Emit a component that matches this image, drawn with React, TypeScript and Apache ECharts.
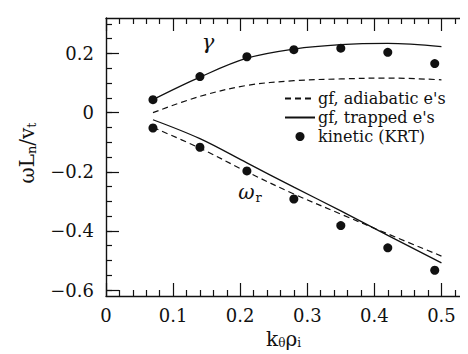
import React, { useEffect, useRef } from "react";
import * as echarts from "echarts";

// ---- data ----
const kineticX = [0.07, 0.14, 0.21, 0.28, 0.35, 0.42, 0.49];
const kineticGamma = [0.044, 0.122, 0.189, 0.213, 0.218, 0.204, 0.166];
const kineticOmega = [-0.052, -0.117, -0.197, -0.292, -0.382, -0.457, -0.533];

const gfX = [0.07, 0.14, 0.21, 0.28, 0.35, 0.42, 0.5];
const gammaTrapped = [0.044, 0.12, 0.184, 0.215, 0.23, 0.234, 0.223];
const gammaAdiabatic = [0.0, 0.055, 0.092, 0.108, 0.114, 0.117, 0.111];
const omegaTrapped = [-0.024, -0.088, -0.17, -0.252, -0.332, -0.415, -0.508];
const omegaAdiabatic = [-0.05, -0.12, -0.2, -0.275, -0.343, -0.41, -0.485];

// ---- ticks ----
const xMajor = [0, 0.1, 0.2, 0.3, 0.4, 0.5];
const xMinor = [0.02, 0.04, 0.06, 0.08, 0.12, 0.14, 0.16, 0.18, 0.22, 0.24, 0.26, 0.28, 0.32, 0.34, 0.36, 0.38, 0.42, 0.44, 0.46, 0.48, 0.52, 0.54];
const yMajor = [-0.6, -0.4, -0.2, 0, 0.2];
const yMinor = [-0.6, -0.55, -0.5, -0.45, -0.4, -0.35, -0.3, -0.25, -0.2, -0.15, -0.1, -0.05, 0, 0.05, 0.1, 0.15, 0.2, 0.25, 0.3];

const LEG_ADIA = "gf, adiabatic e's";
const LEG_TRAP = "gf, trapped e's";
const LEG_KIN = "kinetic (KRT)";

const FONT = "'DejaVu Serif', serif";
const INK = "#111";

const zip = (xs: number[], ys: number[]) => xs.map((x, i) => [x, ys[i]]);

const fmt = (v: number) => {
  if (Math.abs(v) < 1e-9) return "0";
  return (v < 0 ? "\u2212" : "") + Math.abs(v).toFixed(1);
};

export default function App() {
  const ref = useRef<HTMLDivElement>(null);
  useEffect(() => {
    if (!ref.current) return;
    const chart = echarts.init(ref.current, undefined, { renderer: "svg" });
    const xRange = { min: 0, max: 0.55 };
    const yRange = { min: -0.62, max: 0.32 };
    const lineAx = { show: true, onZero: false, lineStyle: { color: INK, width: 1.4 } };
    const noLine = { show: false, onZero: false };
    const mkX = (pos: string, major: boolean, labels: boolean, extra: any = {}) => ({
      type: "value",
      ...xRange,
      position: pos,
      axisLine: major ? lineAx : noLine,
      axisTick: {
        show: true,
        inside: true,
        length: major ? 13 : 6,
        customValues: major ? xMajor : xMinor,
        lineStyle: { color: INK, width: 1.2 },
      },
      axisLabel: labels
        ? {
            show: true,
            customValues: xMajor,
            formatter: fmt,
            fontFamily: FONT,
            fontSize: 18,
            color: INK,
            margin: 10,
          }
        : { show: false },
      splitLine: { show: false },
      ...extra,
    });
    const mkY = (pos: string, major: boolean, labels: boolean, extra: any = {}) => ({
      type: "value",
      ...yRange,
      position: pos,
      axisLine: major ? lineAx : noLine,
      axisTick: {
        show: true,
        inside: true,
        length: major ? 13 : 6,
        customValues: major ? yMajor : yMinor,
        lineStyle: { color: INK, width: 1.2 },
      },
      axisLabel: labels
        ? {
            show: true,
            customValues: yMajor,
            formatter: fmt,
            fontFamily: FONT,
            fontSize: 18,
            color: INK,
            margin: 12,
            padding: [4, 0, 0, 0],
          }
        : { show: false },
      splitLine: { show: false },
      ...extra,
    });

    const dashed = { color: INK, width: 1.2, type: [6, 4] as any };
    const solid = { color: INK, width: 1.3, type: "solid" };
    const hiddenSym = { color: "transparent", borderColor: "transparent" };

    chart.setOption({
      animation: false,
      backgroundColor: "#fff",
      grid: { left: 98, top: 10, width: 369, height: 278, containLabel: false },
      xAxis: [
        mkX("bottom", true, true, {
          name: "{a|k}{s|\u03b8}{a|\u03c1}{s|i}",
          nameLocation: "middle",
          nameGap: 33,
          nameTextStyle: {
            padding: [0, 14, 0, 0],
            rich: {
              a: { fontFamily: FONT, fontSize: 20, color: INK },
              s: { fontFamily: FONT, fontSize: 12, color: INK, padding: [7, 0, 0, 0] },
            },
          },
        }),
        mkX("bottom", false, false),
        mkX("top", true, false),
        mkX("top", false, false),
      ],
      yAxis: [
        mkY("left", true, true, {
          name: "{a|\u03c9L}{s|n}{a|/v}{s|t}",
          nameLocation: "middle",
          nameGap: 68,
          nameRotate: 90,
          nameTextStyle: {
            padding: [0, 0, 0, 8],
            rich: {
              a: { fontFamily: FONT, fontSize: 20, color: INK },
              s: { fontFamily: FONT, fontSize: 13, color: INK, padding: [10, 0, 0, 0] },
            },
          },
        }),
        mkY("left", false, false),
        mkY("right", true, false),
        mkY("right", false, false),
      ],
      legend: {
        show: true,
        orient: "vertical",
        left: 276,
        top: 81,
        padding: 0,
        itemWidth: 30,
        itemHeight: 9,
        itemGap: 0,
        selectedMode: false,
        textStyle: { fontFamily: FONT, fontSize: 16, lineHeight: 19, color: INK, padding: [0, 0, 0, -2] },
        data: [LEG_ADIA, LEG_TRAP, LEG_KIN],
      },
      series: [
        {
          name: LEG_ADIA,
          type: "line",
          data: zip(gfX, gammaAdiabatic),
          smooth: 0.35,
          symbol: "none",
          lineStyle: dashed,
          itemStyle: hiddenSym,
        },
        {
          name: LEG_TRAP,
          type: "line",
          data: zip(gfX, gammaTrapped),
          smooth: 0.35,
          symbol: "none",
          lineStyle: solid,
          itemStyle: hiddenSym,
        },
        {
          name: LEG_ADIA,
          type: "line",
          data: zip(gfX, omegaAdiabatic),
          smooth: 0.35,
          symbol: "none",
          lineStyle: dashed,
          itemStyle: hiddenSym,
        },
        {
          name: LEG_TRAP,
          type: "line",
          data: zip(gfX, omegaTrapped),
          smooth: 0.35,
          symbol: "none",
          lineStyle: solid,
          itemStyle: hiddenSym,
        },
        {
          name: LEG_KIN,
          type: "scatter",
          data: zip(kineticX, kineticGamma),
          symbol: "circle",
          symbolSize: 9,
          itemStyle: { color: INK, opacity: 1 },
        },
        {
          name: LEG_KIN,
          type: "scatter",
          data: zip(kineticX, kineticOmega),
          symbol: "circle",
          symbolSize: 9,
          itemStyle: { color: INK, opacity: 1 },
        },
      ],
      graphic: [
        {
          type: "text",
          x: 200,
          y: 34,
          style: {
            text: "\u03b3",
            font: `italic 21px 'DejaVu Serif', serif`,
            fill: INK,
            textAlign: "center",
            textVerticalAlign: "middle",
          },
        },
        {
          type: "text",
          x: 242,
          y: 184,
          style: {
            text: "{w|\u03c9}{r|r}",
            fill: INK,
            textAlign: "center",
            textVerticalAlign: "middle",
            rich: {
              w: { fontFamily: FONT, fontStyle: "italic", fontSize: 20, fill: INK },
              r: { fontFamily: FONT, fontSize: 13, fill: INK, padding: [10, 0, 0, 1] },
            },
          },
        },
      ],
    });
    return () => chart.dispose();
  }, []);
  return <div ref={ref} style={{ width: 468, height: 354 }} />;
}
